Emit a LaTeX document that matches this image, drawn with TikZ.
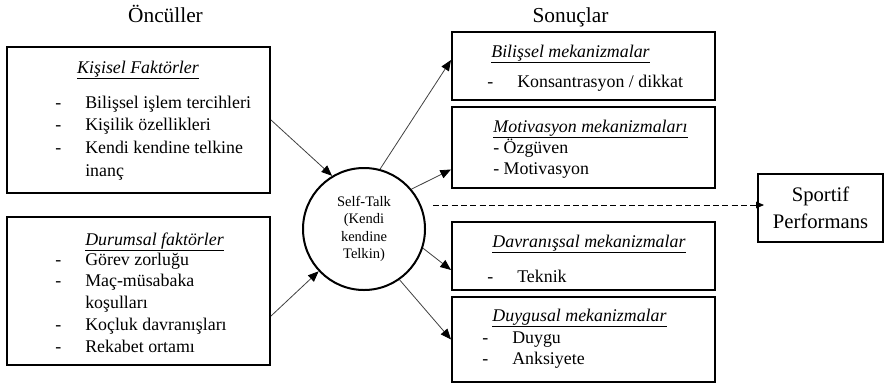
\documentclass[tikz,border=0pt]{standalone}
\usepackage{fontspec}
\setmainfont{Liberation Serif}
\usetikzlibrary{arrows.meta}

\begin{document}
\begin{tikzpicture}[x=0.75pt, y=-0.75pt, >={Triangle[length=8pt,width=6.5pt,color=black]},
  box/.style={draw, rectangle, line width=1.5pt, inner sep=0pt},
  hdr/.style={anchor=base, inner sep=0pt, font=\fontsize{16}{19}\selectfont},
  ttl/.style={anchor=base, inner sep=0pt, font=\fontsize{13.4}{16.4}\selectfont\itshape},
  items/.style={anchor=base west, inner sep=0pt, align=left, font=\fontsize{13.4}{16.4}\selectfont},
  arr/.style={->, line width=0.6pt, draw=black!75},
  dasharr/.style={-{Triangle[length=6pt,width=5pt]}, line width=0.6pt, dash pattern=on 4.5pt off 2.5pt}]
  \useasboundingbox (0,0) rectangle (884,386);

  % headings
  \node[hdr] (oncul) at (165.5,22) {Öncüller};
  \node[hdr] (sonuc) at (570.5,22) {Sonuçlar};

  % antecedents
  \node[box, minimum width=197.25pt, minimum height=109.5pt] (kisisel) at (138.5,120) {};
  \node[ttl] (kisiselT) at (138,73) {\underline{Kişisel Faktörler}};
  \node[items, font=\fontsize{13.4}{17}\selectfont] (kisiselL) at (55,108)
    {\begin{tabular}[t]{@{}p{22.5pt}@{}l@{}}
      - & Bilişsel işlem tercihleri\\
      - & Kişilik özellikleri\\
      - & Kendi kendine telkine\\
        & inanç
     \end{tabular}};

  \node[box, minimum width=197.25pt, minimum height=111pt] (durumsal) at (138.5,291) {};
  \node[ttl] (durumsalT) at (154.5,245) {\underline{Durumsal faktörler}};
  \node[items] (durumsalL) at (55,265)
    {\begin{tabular}[t]{@{}p{22.5pt}@{}l@{}}
      - & Görev zorluğu\\
      - & Maç-müsabaka\\
        & koşulları\\
      - & Koçluk davranışları\\
      - & Rekabet ortamı
     \end{tabular}};

  % self-talk
  \node[draw, circle, line width=1.5pt, minimum size=91.5pt, inner sep=0pt, align=center,
        font=\fontsize{10.9}{13}\selectfont] (selftalk) at (364,229)
    {Self-Talk\\(Kendi\\kendine\\Telkin)};

  % outcomes
  \node[box, minimum width=197.25pt, minimum height=51pt] (bilissel) at (583.5,66) {};
  \node[ttl] (bilisselT) at (570.5,57) {\underline{Bilişsel mekanizmalar}};
  \node[items] (bilisselL) at (487,87)
    {\begin{tabular}[t]{@{}p{22.5pt}@{}l@{}} - & Konsantrasyon / dikkat\end{tabular}};

  \node[box, minimum width=197.25pt, minimum height=60.75pt] (motiv) at (583.5,147.5) {};
  \node[ttl] (motivT) at (590.5,132) {\underline{Motivasyon mekanizmaları}};
  \node[items] (motivL) at (493,153)
    {\begin{tabular}[t]{@{}l@{}} - Özgüven\\ - Motivasyon\end{tabular}};

  \node[box, minimum width=197.25pt, minimum height=51pt] (davran) at (583.5,256) {};
  \node[ttl] (davranT) at (589,247) {\underline{Davranışsal mekanizmalar}};
  \node[items] (davranL) at (487,282)
    {\begin{tabular}[t]{@{}p{22.5pt}@{}l@{}} - & Teknik\end{tabular}};

  \node[box, minimum width=197.25pt, minimum height=63.75pt] (duygu) at (583.5,339.5) {};
  \node[ttl] (duyguT) at (579.5,321) {\underline{Duygusal mekanizmalar}};
  \node[items] (duyguL) at (482,343)
    {\begin{tabular}[t]{@{}p{22.5pt}@{}l@{}}
      - & Duygu\\
      - & Anksiyete
     \end{tabular}};

  \node[box, minimum width=93.75pt, minimum height=51pt, align=center,
        font=\fontsize{15.5}{20}\selectfont] (sportif) at (820.5,208) {Sportif\\Performans};

  % connectors
  \draw[arr] (kisisel.east) -- (selftalk.121);
  \draw[arr] ([yshift=-18.75pt]durumsal.east) -- (selftalk.223);
  \draw[arr] (selftalk.75) -- ([yshift=4.5pt]bilissel.west);
  \draw[arr] (selftalk.40) -- ([yshift=-16.5pt]motiv.west);
  \draw[arr] (selftalk.-18) -- ([yshift=-10.5pt]davran.west);
  \draw[arr] (selftalk.-55) -- (duygu.west);
  \draw[dasharr] ([xshift=5.25pt,yshift=18pt]selftalk.east) -- ([xshift=5.25pt,yshift=18pt]selftalk.east -| sportif.west);
\end{tikzpicture}
\end{document}
